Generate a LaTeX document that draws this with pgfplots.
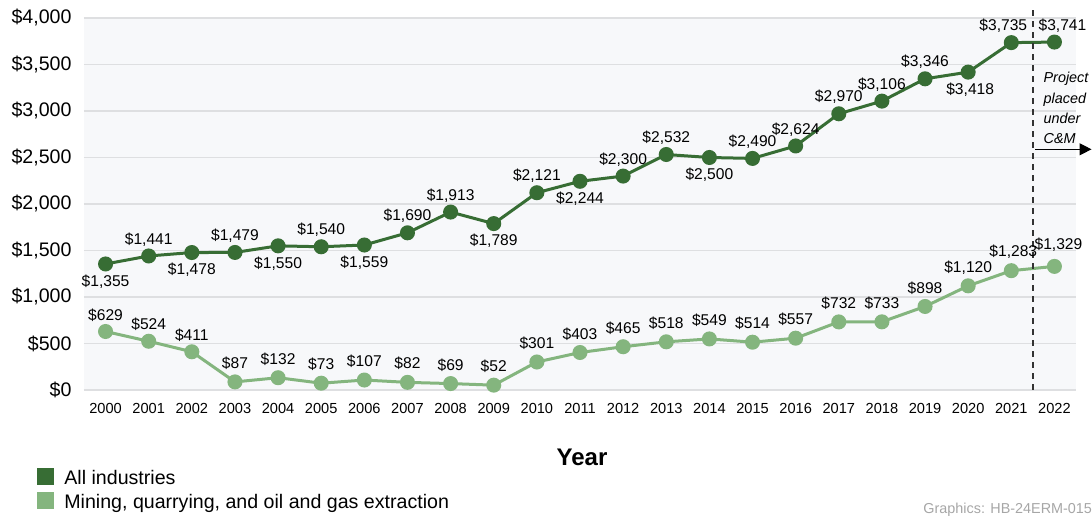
\documentclass[border=0pt]{standalone}
\usepackage{pgfplots}
\pgfplotsset{compat=1.18}
\usepackage{pgfplotstable}
\usepackage{fontspec}
\setmainfont{Liberation Sans}
\usetikzlibrary{arrows.meta}

\definecolor{allgr}{RGB}{55,109,52}
\definecolor{mingr}{RGB}{132,181,126}
\definecolor{plotbg}{RGB}{247,248,250}
\definecolor{gridc}{RGB}{222,223,225}

\pgfplotstableread{
year val
2000 1355
2001 1441
2002 1478
2003 1479
2004 1550
2005 1540
2006 1559
2007 1690
2008 1913
2009 1789
2010 2121
2011 2244
2012 2300
2013 2532
2014 2500
2015 2490
2016 2624
2017 2970
2018 3106
2019 3346
2020 3418
2021 3735
2022 3741
}\allind

\pgfplotstableread{
year val
2000 629
2001 524
2002 411
2003 87
2004 132
2005 73
2006 107
2007 82
2008 69
2009 52
2010 301
2011 403
2012 465
2013 518
2014 549
2015 514
2016 557
2017 732
2018 733
2019 898
2020 1120
2021 1283
2022 1329
}\mining

\pgfplotsset{
  lbl/.style={
    nodes near coords={\$\pgfmathprintnumber[fixed,precision=0,1000 sep={,}]{\pgfplotspointmeta}},
    every node near coord/.append style={anchor=center, yshift=8.3pt,
      font=\fontsize{7.8}{9}\selectfont, text=black, inner sep=0pt},
  },
}

\begin{document}
\begin{tikzpicture}
\useasboundingbox (0,0) rectangle (546pt,258.5pt);
\begin{axis}[
  at={(42pt,63.5pt)}, anchor=south west,
  scale only axis, width=496pt, height=186pt,
  xmin=1999.5, xmax=2022.5, ymin=0, ymax=4000,
  clip=false,
  axis line style={draw=none},
  axis background/.style={fill=plotbg},
  major tick length=0pt,
  ymajorgrids, grid style={draw=gridc, line width=0.8pt},
  scaled x ticks=false, scaled y ticks=false,
  /pgf/number format/assume math mode=true,
  xtick={2000,2001,...,2022},
  ytick={0,500,...,4000},
  xticklabel={\pgfmathprintnumber[fixed,precision=0,1000 sep={}]{\tick}},
  yticklabel={\$\pgfmathprintnumber[fixed,precision=0,1000 sep={,}]{\tick}},
  xticklabel style={font=\fontsize{7.3}{9}\selectfont, yshift=-3pt},
  yticklabel style={font=\fontsize{9.8}{11}\selectfont, xshift=-2.7pt},
]
\addplot[mingr, line width=1.5pt, mark=*, mark size=3pt, lbl,
  coordinate style/.condition={\coordindex>2}{yshift=1pt},
  coordinate style/.condition={\coordindex==21}{xshift=1pt},
  coordinate style/.condition={\coordindex==22}{xshift=2pt, yshift=1.5pt}]
  table[x=year, y=val] {\mining};
\addplot[allgr, line width=1.5pt, mark=*, mark size=3pt, lbl,
  coordinate style/.condition={\coordindex==0 || \coordindex==2 || \coordindex==4
    || \coordindex==6 || \coordindex==9 || \coordindex==11 || \coordindex==14
    || \coordindex==20}{yshift=-17pt},
  coordinate style/.condition={\coordindex==20}{xshift=1pt},
  coordinate style/.condition={\coordindex==21}{xshift=-4pt},
  coordinate style/.condition={\coordindex==22}{xshift=4pt}]
  table[x=year, y=val] {\allind};

% project placed under C&M marker
\draw[dash pattern=on 3pt off 2.5pt, line width=0.7pt, black!80]
  (axis cs:2021.5,0) -- (axis cs:2021.5,4090);
\draw[line width=0.6pt, -{Triangle[length=6pt,width=6pt]}]
  (axis cs:2021.55,2588) -- (axis cs:2022.86,2588);
\node[anchor=north west, align=left, inner sep=0pt,
  font=\fontsize{7.2}{10.2}\itshape\selectfont]
  at (axis cs:2021.74,3420) {Project\\placed\\under\\C\&M};
\end{axis}

\node[anchor=base, font=\fontsize{12}{14}\bfseries\selectfont] at (291pt,25.5pt) {Year};

% legend
\fill[allgr] (18.5pt,16pt) rectangle ++(8.5pt,8.5pt);
\fill[mingr] (18.5pt,4pt) rectangle ++(8.5pt,8.5pt);
\node[anchor=base west, inner sep=0pt, font=\fontsize{9.8}{11}\selectfont] at (32pt,16pt) {All industries};
\node[anchor=base west, inner sep=0pt, font=\fontsize{9.8}{11}\selectfont] at (32pt,4pt) {Mining, quarrying, and oil and gas extraction};

\node[anchor=base west, inner sep=0pt, text=black!35, font=\fontsize{7.2}{9}\selectfont] at (461.5pt,1.5pt) {Graphics: HB-24ERM-015};
\end{tikzpicture}
\end{document}
